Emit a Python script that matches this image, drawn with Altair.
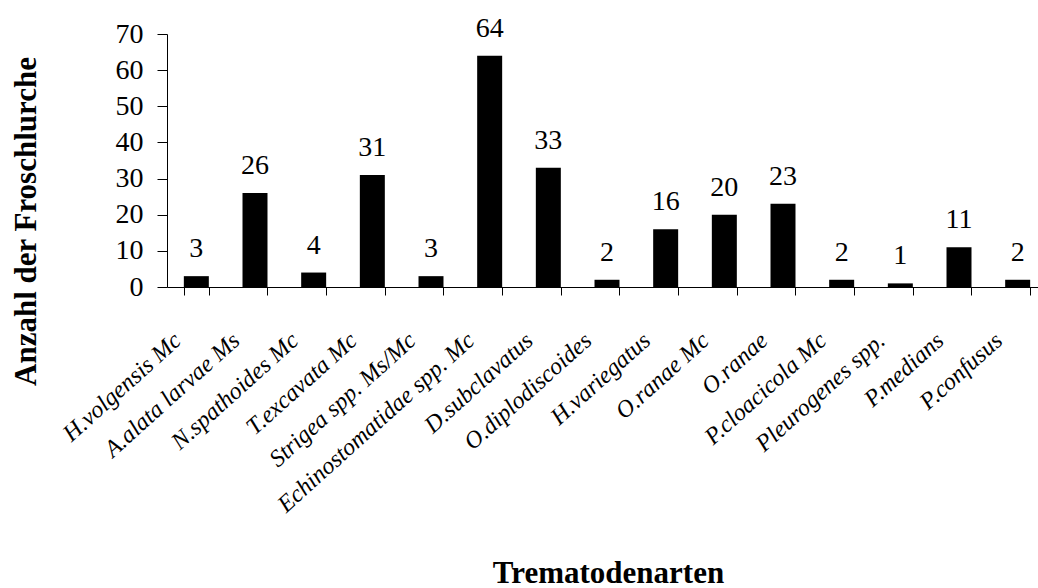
import altair as alt
import pandas as pd

# Trematode species and the number of frogs (Froschlurche) each was found in
species = [
    "H.volgensis Mc",
    "A.alata larvae Ms",
    "N.spathoides Mc",
    "T.excavata Mc",
    "Strigea spp. Ms/Mc",
    "Echinostomatidae spp. Mc",
    "D.subclavatus",
    "O.diplodiscoides",
    "H.variegatus",
    "O.ranae Mc",
    "O.ranae",
    "P.cloacicola Mc",
    "Pleurogenes spp.",
    "P.medians",
    "P.confusus",
]
counts = [3, 26, 4, 31, 3, 64, 33, 2, 16, 20, 23, 2, 1, 11, 2]
y_ticks = [0, 10, 20, 30, 40, 50, 60, 70]

df = pd.DataFrame({"art": species, "anzahl": counts})

FONT = "Liberation Serif, Times New Roman, serif"

x_enc = alt.X(
    "art:N",
    sort=None,
    scale=alt.Scale(range=[0, 880], paddingInner=0.574, paddingOuter=0.287),
    axis=alt.Axis(
        title="Trematodenarten",
        titleFont=FONT,
        titleFontSize=31,
        titleFontWeight="bold",
        titleColor="black",
        titleX=441,
        titleY=295,
        titleBaseline="alphabetic",
        labelFont=FONT,
        labelFontSize=24,
        labelFontStyle="italic",
        labelColor="black",
        labelAngle=-42,
        labelAlign="right",
        labelBaseline="middle",
        labelOffset=-19,
        labelPadding=42,
        labelOverlap=False,
        labelLimit=0,
        tickBand="extent",
        tickSize=8,
        tickColor="black",
        domainColor="black",
        domainWidth=1,
        tickWidth=1,
    ),
)

y_enc = alt.Y(
    "anzahl:Q",
    scale=alt.Scale(domain=[0, 70], nice=False),
    axis=alt.Axis(
        title="Anzahl der Froschlurche",
        titleFont=FONT,
        titleFontSize=31,
        titleFontWeight="bold",
        titleColor="black",
        titleAngle=-90,
        titleAlign="center",
        titleBaseline="middle",
        titleX=-141,
        titleY=187,
        values=y_ticks,
        labelOverlap=False,
        labelFont=FONT,
        labelFontSize=28,
        labelColor="black",
        labelPadding=14,
        tickSize=10,
        tickWidth=1,
        tickColor="black",
        domainColor="black",
        grid=False,
    ),
)

# Shared encodings so both layers use the same axes
base = alt.Chart(df).encode(x=x_enc, y=y_enc)

bars = base.mark_bar(color="black")

labels = base.mark_text(
    font=FONT, fontSize=28, color="black", baseline="alphabetic", dy=-19
).encode(text="anzahl:Q")

chart = (
    alt.layer(bars, labels)
    .properties(
        width=871,
        height=253,
        autosize=alt.AutoSizeParams(type="none"),
        padding={"left": 167, "top": 34, "right": 0, "bottom": 301},
        background="white",
    )
    .configure_view(stroke=None)
)

chart.save("out.html", embed_options={"renderer": "svg", "actions": False})
